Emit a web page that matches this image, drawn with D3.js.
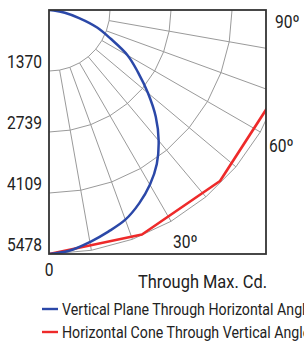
<!DOCTYPE html>
<html>
<head>
<meta charset="utf-8">
<script src="https://cdn.jsdelivr.net/npm/d3@7"></script>
<style>
  body { margin: 0; background: #fff; }
  svg { display: block; }
  text { font-family: Roboto, sans-serif; fill: #222; }
</style>
</head>
<body>
<div id="chart"></div>
<script>
// candela rings and grid angles
const rings = [1370, 2739, 4109, 5478];
const gridAngles = [0, 10, 20, 30, 40, 50, 60, 70, 80, 90];

// vertical plane through horizontal angle of max cd (blue)
const blueAngles = [0, 5, 10, 15, 20, 25, 30, 35, 40, 45, 50, 55, 60, 65, 70, 75, 80, 85, 90];
const blueCd = [5478, 5420, 5290, 5150, 5010, 4790, 4530, 4220, 3830, 3390, 2900, 2440, 2040, 1530, 1150, 700, 360, 110, 0];

// horizontal cone through vertical angle of max cd (red)
const redAngles = [0, 22.5, 45, 67.5, 90];
const redCd = [5478, 5455, 5430, 5395, 5380];

const angleLabels = ['0', '30º', '60º', '90º'];
const legendNames = ['Vertical Plane Through Horizontal Angle of Max. Cd.', 'Horizontal Cone Through Vertical Angle of Max. Cd.'];
const legendColors = ['#2b48a8', '#ee2a2a'];

const W = 304, H = 341;
const frame = { left: 49, top: 10, right: 266, bottom: 254 };
const cx = frame.left, cy = frame.top;
const narrow = 0.865; // condensed look

const svg = d3.select('#chart').append('svg')
  .attr('width', W)
  .attr('height', H);

const r = d3.scaleLinear()
  .domain([0, 5478])
  .range([0, frame.bottom - frame.top]);

// angle measured from nadir toward the right -> d3 radial angle
const toRad = deg => Math.PI - deg * Math.PI / 180;

function label(sel, x, y, size, anchor, txt) {
  return sel.append('text')
    .attr('transform', `translate(${x},${y}) scale(${narrow},1)`)
    .attr('text-anchor', anchor)
    .style('font-size', size + 'px')
    .text(txt);
}

svg.append('clipPath').attr('id', 'clip')
  .append('rect')
  .attr('x', frame.left)
  .attr('y', frame.top)
  .attr('width', frame.right - frame.left)
  .attr('height', frame.bottom - frame.top);

// faint title, mostly above the window
label(svg, 155, 0, 14, 'middle', 'Candela Distribution')
  .style('fill', '#b5b5b5');

const g = svg.append('g')
  .attr('clip-path', 'url(#clip)')
  .append('g')
  .attr('transform', `translate(${cx},${cy})`);

const radial = d3.lineRadial()
  .angle(d => toRad(d[0]))
  .radius(d => r(d[1]));

// rings (drawn as 10 degree polylines)
g.selectAll('path.ring')
  .data(rings)
  .join('path')
  .attr('class', 'ring')
  .attr('d', v => radial(gridAngles.map(a => [a, v])))
  .attr('fill', 'none')
  .attr('stroke', '#9a9a9a')
  .attr('stroke-width', 1);

// rays
g.selectAll('path.ray')
  .data(gridAngles.slice(1, -1))
  .join('path')
  .attr('class', 'ray')
  .attr('d', a => radial([[a, rings[0]], [a, rings[rings.length - 1]]]))
  .attr('stroke', '#9a9a9a')
  .attr('stroke-width', 1);

// high angle rays run on to the frame
g.selectAll('path.ray2')
  .data(gridAngles.slice(7, -1))
  .join('path')
  .attr('class', 'ray2')
  .attr('d', a => radial([[a, rings[rings.length - 1]], [a, 8000]]))
  .attr('stroke', '#9a9a9a')
  .attr('stroke-width', 1);

// curves
g.append('path')
  .datum(redAngles.map((a, i) => [a, redCd[i]]))
  .attr('d', radial)
  .attr('fill', 'none')
  .attr('stroke', legendColors[1])
  .attr('stroke-width', 2.6)
  .attr('stroke-linejoin', 'round');

g.append('path')
  .datum(blueAngles.map((a, i) => [a, blueCd[i]]))
  .attr('d', radial.curve(d3.curveCatmullRom))
  .attr('fill', 'none')
  .attr('stroke', legendColors[0])
  .attr('stroke-width', 2.5);

// frame
svg.append('rect')
  .attr('x', frame.left)
  .attr('y', frame.top)
  .attr('width', frame.right - frame.left)
  .attr('height', frame.bottom - frame.top)
  .attr('fill', 'none')
  .attr('stroke', '#333')
  .attr('stroke-width', 1.8);

// ring labels on the left
rings.forEach(v => label(svg, frame.left - 7, cy + r(v) - 3, 18, 'end', v));

// angle labels
const labelPos = [
  { x: frame.left, y: frame.bottom + 22, anchor: 'middle' },
  { x: 173, y: frame.bottom - 6, anchor: 'start' },
  { x: frame.right + 3, y: 152, anchor: 'start' },
  { x: frame.right + 9, y: 28, anchor: 'start' }
];
angleLabels.forEach((t, i) => label(svg, labelPos[i].x, labelPos[i].y, 18, labelPos[i].anchor, t));

label(svg, 138, 288, 19, 'start', 'Through Max. Cd.');

// legend
const legend = svg.selectAll('g.legend')
  .data(legendNames)
  .join('g')
  .attr('class', 'legend')
  .attr('transform', (d, i) => `translate(42,${309 + i * 23})`);

legend.append('line')
  .attr('x1', 0).attr('x2', 16)
  .attr('stroke', (d, i) => legendColors[i])
  .attr('stroke-width', 2.4);

legend.each(function(d) { label(d3.select(this), 20, 5.5, 16.4, 'start', d); });
</script>
</body>
</html>
